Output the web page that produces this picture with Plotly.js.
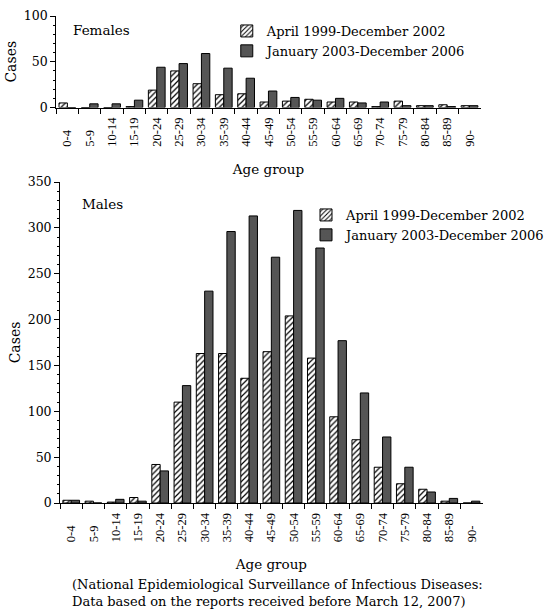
<!DOCTYPE html>
<html>
<head>
<meta charset="utf-8">
<script src="https://cdn.plot.ly/plotly-3.0.1.min.js"></script>
<style>
  html, body { margin: 0; padding: 0; background: #ffffff; }
  #chart { width: 551px; height: 609px; }
</style>
</head>
<body>
<div id="chart"></div>
<script>
// ---- Data ----
const ageGroups = ["0-4","5-9","10-14","15-19","20-24","25-29","30-34","35-39","40-44","45-49",
                   "50-54","55-59","60-64","65-69","70-74","75-79","80-84","85-89","90-"];
const seriesNames = ["April 1999-December 2002", "January 2003-December 2006"];

const femalesPeriod1 = [5,0,0,1,19,40,26,14,15,6,7,9,6,6,1,7,2,3,2];
const femalesPeriod2 = [0,4,4,8,44,48,59,43,32,18,11,8,10,5,6,2,2,1,2];

const malesPeriod1 = [3,2,1,6,42,110,163,163,136,165,204,158,94,69,39,21,15,2,0];
const malesPeriod2 = [3,0,4,2,35,128,231,296,313,268,319,278,177,120,72,39,12,5,2];

const yTicksFemales = [0,50,100];
const yTicksMales = [0,50,100,150,200,250,300,350];

// tick labels are bottom-aligned in the reference: pad short ones with figure spaces
const ageTickText = ageGroups.map(s => {
  const digits = s.replace(/[^0-9]/g, "").length;
  return s + "\u2007".repeat(Math.max(0, 4 - digits));
});

// ---- Styles ----
const SERIF = "DejaVu Serif, serif";
const hatched = {
  color: "white",
  line: {color: "black", width: 1},
  pattern: {shape: "/", fgcolor: "black", bgcolor: "white", size: 4, solidity: 0.3}
};
const stippled = {
  color: "#5a5a5a",
  line: {color: "black", width: 1},
  pattern: {shape: ".", fgcolor: "#404040", bgcolor: "#626262", size: 2, solidity: 0.4}
};

const traces = [
  {type: "bar", x: ageGroups, y: femalesPeriod1, name: seriesNames[0], marker: hatched,
   xaxis: "x", yaxis: "y", legend: "legend"},
  {type: "bar", x: ageGroups, y: femalesPeriod2, name: seriesNames[1], marker: stippled,
   xaxis: "x", yaxis: "y", legend: "legend"},
  {type: "bar", x: ageGroups, y: malesPeriod1, name: seriesNames[0], marker: hatched,
   xaxis: "x2", yaxis: "y2", legend: "legend2"},
  {type: "bar", x: ageGroups, y: malesPeriod2, name: seriesNames[1], marker: stippled,
   xaxis: "x2", yaxis: "y2", legend: "legend2"}
];

function xAxis(domain, anchor) {
  return {
    domain: domain, anchor: anchor, type: "category",
    tickvals: ageGroups, ticktext: ageTickText,
    showline: true, linecolor: "black", linewidth: 1,
    ticks: "outside", tickson: "boundaries", ticklen: 5, tickcolor: "black", tickwidth: 1,
    ticklabelstandoff: 4,
    tickangle: -90, showgrid: false, zeroline: false,
    tickfont: {family: "Liberation Serif, serif", size: 12.5, color: "black"},
    title: {text: "Age group", font: {family: SERIF, size: 13.5, color: "black"}, standoff: 18}
  };
}
function yAxis(domain, anchor, range, tickvals) {
  return {
    domain: domain, anchor: anchor, range: range,
    tickvals: tickvals, ticktext: tickvals.map(String),
    showline: true, linecolor: "black", linewidth: 1,
    ticks: "outside", ticklen: 5, tickcolor: "black", tickwidth: 1,
    minor: {dtick: 10, ticks: "outside", ticklen: 2, tickcolor: "black", showgrid: false},
    showgrid: false, zeroline: false,
    tickfont: {family: SERIF, size: 12.5, color: "black"},
    title: {text: "Cases", font: {family: SERIF, size: 14, color: "black"}, standoff: 3}
  };
}

const layout = {
  width: 551, height: 609,
  margin: {l: 0, r: 0, t: 0, b: 0},
  paper_bgcolor: "white", plot_bgcolor: "white",
  barmode: "group", bargap: 0.25, bargroupgap: 0,
  showlegend: true,
  xaxis: xAxis([58/551, 496/551], "y"),
  yaxis: yAxis([1 - 107.5/609, 1 - 16/609], "x", [0, 100], yTicksFemales),
  xaxis2: xAxis([62/551, 498/551], "y2"),
  yaxis2: yAxis([1 - 503/609, 1 - 182/609], "x2", [0, 350], yTicksMales),
  legend: {x: 234/551, y: 1 - 16/609, xanchor: "left", yanchor: "top",
           bgcolor: "rgba(0,0,0,0)", borderwidth: 0, tracegroupgap: 0,
           font: {family: SERIF, size: 13, color: "black"}},
  legend2: {x: 316/551, y: 1 - 200/609, xanchor: "left", yanchor: "top",
            bgcolor: "rgba(0,0,0,0)", borderwidth: 0, tracegroupgap: 0,
            font: {family: SERIF, size: 13, color: "black"}},
  annotations: [
    {text: "Females", xref: "paper", yref: "paper", x: 73/551, y: 1 - 30/609,
     xanchor: "left", yanchor: "middle", showarrow: false,
     font: {family: SERIF, size: 13.5, color: "black"}},
    {text: "Males", xref: "paper", yref: "paper", x: 83/551, y: 1 - 204/609,
     xanchor: "left", yanchor: "middle", showarrow: false,
     font: {family: SERIF, size: 13.5, color: "black"}},
    {text: "(National Epidemiological Surveillance of Infectious Diseases:<br>Data based on the reports received before March 12, 2007)",
     xref: "paper", yref: "paper", x: 72/551, y: 1 - 593/609,
     xanchor: "left", yanchor: "middle", align: "left", showarrow: false,
     font: {family: SERIF, size: 13, color: "black"}}
  ]
};

Plotly.newPlot("chart", traces, layout, {displayModeBar: false, staticPlot: true});
</script>
</body>
</html>
